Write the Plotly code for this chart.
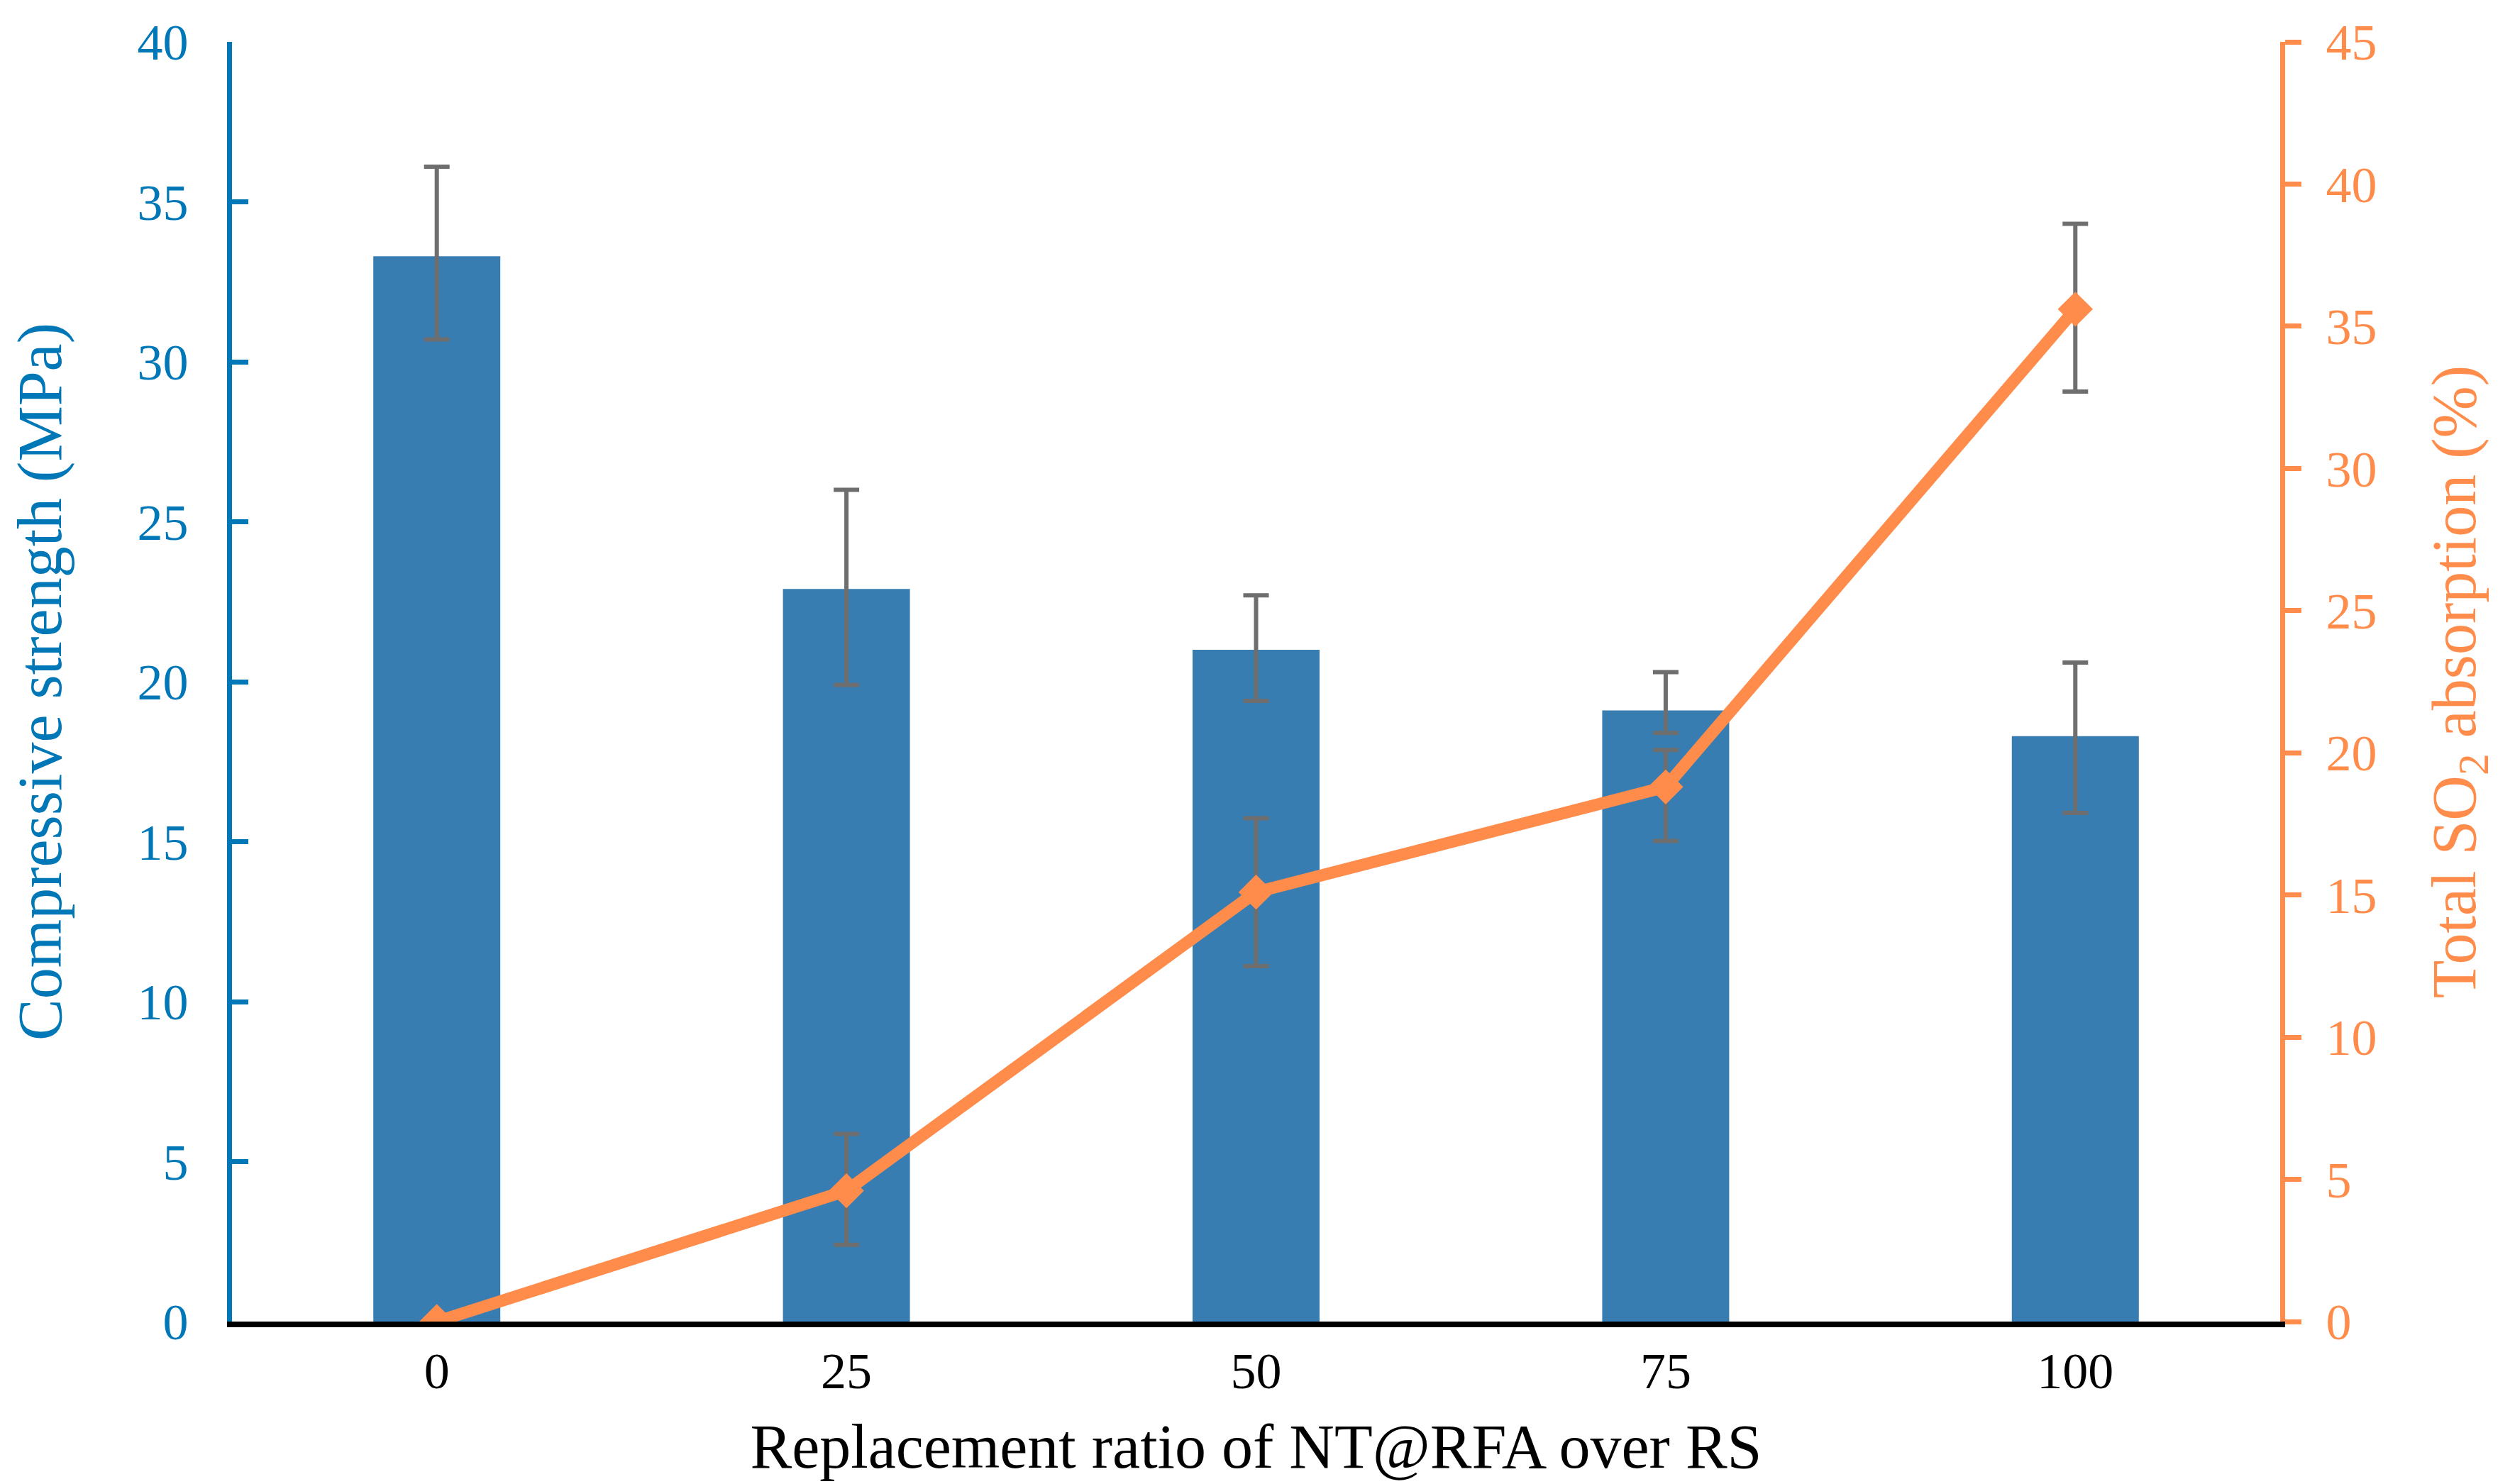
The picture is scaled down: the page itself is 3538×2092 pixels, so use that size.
import plotly.graph_objects as go

# replacement ratio (%) categories
ratios = ["0", "25", "50", "75", "100"]

# compressive strength (MPa) with error bars
strength = [33.3, 22.9, 21.0, 19.1, 18.3]
strength_err_plus = [2.8, 3.1, 1.7, 1.2, 2.3]
strength_err_minus = [2.6, 3.0, 1.6, 0.7, 2.4]

# total SO2 absorption (%) with error bars
so2 = [0.0, 4.6, 15.1, 18.8, 35.6]
so2_err_plus = [0.0, 2.0, 2.6, 1.3, 3.0]
so2_err_minus = [0.0, 1.9, 2.6, 1.9, 2.9]

BLUE_AXIS = "#0077B6"
BAR_BLUE = "#387DB2"
ORANGE = "#FF8C4B"
ERR_GREY = "#6E6E6E"
FONT = "Liberation Serif"

fig = go.Figure()

fig.add_trace(
    go.Bar(
        x=ratios,
        y=strength,
        width=0.31,
        marker=dict(color=BAR_BLUE, line=dict(width=0)),
        error_y=dict(
            type="data",
            symmetric=False,
            array=strength_err_plus,
            arrayminus=strength_err_minus,
            color=ERR_GREY,
            thickness=6,
            width=18,
        ),
        name="Compressive strength",
    )
)

fig.add_trace(
    go.Scatter(
        x=ratios,
        y=so2,
        yaxis="y2",
        mode="lines+markers",
        line=dict(color=ORANGE, width=17),
        marker=dict(symbol="diamond", size=38, color=ORANGE),
        error_y=dict(
            type="data",
            symmetric=False,
            array=so2_err_plus,
            arrayminus=so2_err_minus,
            color=ERR_GREY,
            thickness=6,
            width=18,
        ),
        name="Total SO2 absorption",
    )
)

# top margin has to keep the "40" / "45" labels inside the page
fig.update_layout(
    width=3538,
    height=2092,
    margin=dict(l=313, r=332, t=44, b=237),
    paper_bgcolor="white",
    plot_bgcolor="white",
    showlegend=False,
    font=dict(family=FONT, size=72, color="black"),
    xaxis=dict(
        type="category",
        range=[-0.5, 4.5],
        showline=True,
        linecolor="black",
        linewidth=8,
        showgrid=False,
        ticks="",
        ticklabelstandoff=0,
        tickfont=dict(size=72, color="black"),
        title=dict(
            text="Replacement ratio of NT@RFA over RS",
            font=dict(size=88, color="black"),
            standoff=38,
        ),
    ),
    yaxis=dict(
        range=[0, 40],
        dtick=5,
        showline=True,
        linecolor=BLUE_AXIS,
        linewidth=7,
        showgrid=False,
        zeroline=False,
        ticks="inside",
        ticklen=23,
        tickwidth=7,
        tickcolor=BLUE_AXIS,
        ticklabelstandoff=40,
        tickfont=dict(size=72, color=BLUE_AXIS),
        title=dict(
            text="Compressive strength (MPa)",
            font=dict(size=88, color=BLUE_AXIS),
            standoff=112,
        ),
    ),
    yaxis2=dict(
        overlaying="y",
        side="right",
        range=[0, 45],
        dtick=5,
        showline=True,
        linecolor=ORANGE,
        linewidth=7,
        showgrid=False,
        zeroline=False,
        ticks="outside",
        ticklen=23,
        tickwidth=7,
        tickcolor=ORANGE,
        ticklabelstandoff=20,
        tickfont=dict(size=72, color=ORANGE),
        title=dict(
            text="Total SO<sub>2</sub> absorption (%)",
            font=dict(size=88, color=ORANGE),
            standoff=80,
        ),
    ),
)

fig.write_html("out.html")
